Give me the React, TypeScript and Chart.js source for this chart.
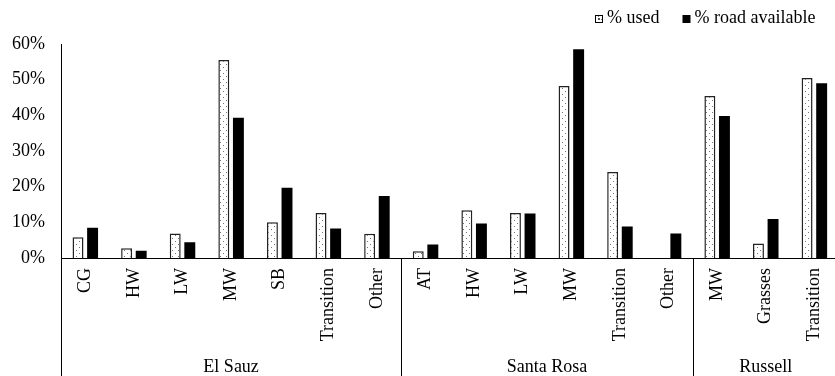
import React, { useEffect, useRef } from "react";
import { Chart, registerables } from "chart.js";

Chart.register(...registerables);

const categories = [
  "CG", "HW", "LW", "MW", "SB", "Transition", "Other",
  "AT", "HW", "LW", "MW", "Transition", "Other",
  "MW", "Grasses", "Transition",
];
const groups = ["El Sauz", "Santa Rosa", "Russell"];
const groupSizes = [7, 6, 3];
const usedPct = [5.8, 2.7, 6.9, 55.5, 10.0, 12.6, 6.8, 1.9, 13.4, 12.6, 48.2, 24.1, 0, 45.4, 4.1, 50.5];
const roadPct = [8.5, 2.0, 4.4, 39.3, 19.7, 8.3, 17.4, 3.8, 9.7, 12.5, 58.5, 8.8, 6.9, 39.8, 10.9, 49.0];
const seriesLabels = ["% used", "% road available"];
const yTicks = [0, 10, 20, 30, 40, 50, 60];

const FONT = "'Liberation Serif', 'Times New Roman', serif";

function makePattern(): CanvasPattern | string {
  const c = document.createElement("canvas");
  c.width = 6;
  c.height = 6;
  const ctx = c.getContext("2d");
  if (!ctx) return "#fff";
  ctx.fillStyle = "#fff";
  ctx.fillRect(0, 0, 6, 6);
  ctx.fillStyle = "#777";
  ctx.fillRect(1, 1, 1, 1);
  ctx.fillRect(4, 4, 1, 1);
  return ctx.createPattern(c, "repeat") || "#fff";
}

export default function App() {
  const ref = useRef<HTMLCanvasElement>(null);

  useEffect(() => {
    document.body.style.overflow = "hidden";
    const canvas = ref.current;
    if (!canvas) return;
    const pattern = makePattern();

    const groupPlugin = {
      id: "groupPlugin",
      afterDraw(chart: any) {
        const ctx = chart.ctx;
        const x = chart.scales.x;
        const area = chart.chartArea;
        const step = x.getPixelForValue(1) - x.getPixelForValue(0);
        const H = chart.height;
        ctx.save();
        ctx.strokeStyle = "#000";
        ctx.lineWidth = 1;
        ctx.fillStyle = "#000";
        ctx.font = `18px ${FONT}`;
        ctx.textAlign = "center";
        ctx.textBaseline = "alphabetic";
        let start = 0;
        groups.forEach((g, gi) => {
          const left = x.getPixelForValue(start) - step / 2;
          const end = start + groupSizes[gi];
          const right = x.getPixelForValue(end - 1) + step / 2;
          const lx = Math.round(left) + 0.5;
          ctx.beginPath();
          ctx.moveTo(lx, area.bottom);
          ctx.lineTo(lx, H);
          ctx.stroke();
          ctx.fillText(g, (left + right) / 2, 372);
          start = end;
        });
        // legend
        const items = [
          { label: seriesLabels[0], fill: pattern, border: true },
          { label: seriesLabels[1], fill: "#000", border: false },
        ];
        ctx.textAlign = "left";
        let px = 595;
        items.forEach((it, i) => {
          ctx.fillStyle = it.fill as any;
          ctx.fillRect(px, 15, 8, 8);
          if (it.border) {
            ctx.strokeStyle = "#000";
            ctx.strokeRect(px + 0.5, 15.5, 7, 7);
            ctx.fillStyle = "#555";
            ctx.fillRect(px + 3, 18, 2, 2);
          }
          ctx.fillStyle = "#000";
          ctx.fillText(it.label, px + 12, 23);
          const w = ctx.measureText(it.label).width;
          px = px + 12 + w + 23;
        });
        ctx.restore();
      },
    };

    const chart = new Chart(canvas, {
      type: "bar",
      data: {
        labels: categories,
        datasets: [
          {
            label: seriesLabels[0],
            data: usedPct,
            backgroundColor: pattern as any,
            borderColor: "#222",
            borderWidth: 1.5,
            categoryPercentage: 0.6,
            barPercentage: 0.75,
          },
          {
            label: seriesLabels[1],
            data: roadPct,
            backgroundColor: "#000",
            borderWidth: 0,
            categoryPercentage: 0.6,
            barPercentage: 0.75,
          },
        ],
      },
      options: {
        responsive: false,
        animation: false,
        layout: { padding: { top: 44, right: 1, left: 0, bottom: 0 } },
        plugins: {
          legend: { display: false },
          tooltip: { enabled: false },
        },
        scales: {
          x: {
            grid: { display: false, drawTicks: false },
            border: { display: true, color: "#000", width: 1 },
            ticks: {
              color: "#000",
              font: { family: FONT, size: 18 },
              minRotation: 90,
              maxRotation: 90,
              padding: 10,
              autoSkip: false,
            },
            afterFit(scale: any) {
              scale.height = 118;
            },
          },
          y: {
            min: 0,
            max: 60,
            grid: { display: false, drawTicks: false },
            border: { display: true, color: "#000", width: 1 },
            afterBuildTicks(scale: any) {
              scale.ticks = yTicks.map((v) => ({ value: v }));
            },
            ticks: {
              color: "#000",
              font: { family: FONT, size: 18 },
              padding: 16,
              callback: (v: any) => `${v}%`,
            },
            afterFit(scale: any) {
              scale.width = 61;
            },
          },
        },
      },
      plugins: [groupPlugin],
    });
    return () => chart.destroy();
  }, []);

  return (
    <div style={{ position: "fixed", left: 0, top: 0, width: 835, height: 376, overflow: "hidden", background: "#fff" }}>
      <canvas ref={ref} width={846} height={376} style={{ width: 846, height: 376, display: "block" }} />
    </div>
  );
}
